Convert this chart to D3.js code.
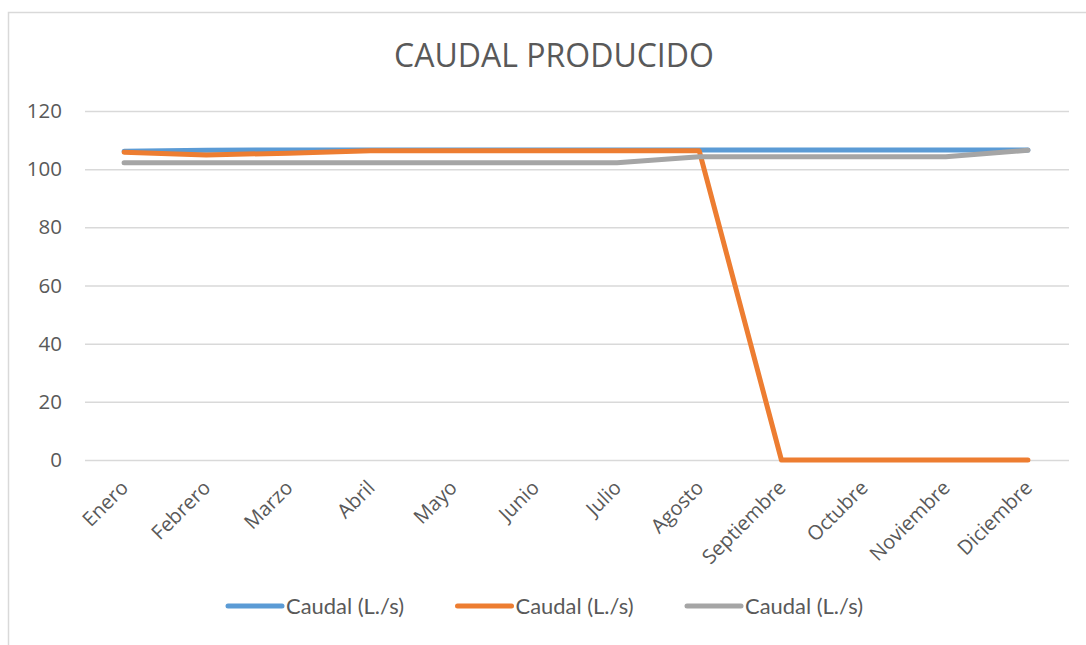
<!DOCTYPE html>
<html>
<head>
<meta charset="utf-8">
<script src="https://cdn.jsdelivr.net/npm/d3@7"></script>
<style>
  html, body { margin: 0; padding: 0; background: #fff; }
  svg { display: block; }
</style>
</head>
<body>
<svg id="chart" width="1086" height="645"></svg>
<script>
// Monthly produced flow, three series of Caudal (L./s)
const months = ["Enero", "Febrero", "Marzo", "Abril", "Mayo", "Junio", "Julio",
                "Agosto", "Septiembre", "Octubre", "Noviembre", "Diciembre"];
const caudalAzul =    [106.2, 106.5, 106.6, 106.6, 106.6, 106.6, 106.6, 106.6, 106.6, 106.6, 106.6, 106.6];
const caudalNaranja = [105.8, 104.9, 105.5, 106.3, 106.3, 106.3, 106.3, 106.3, 0, 0, 0, 0];
const caudalGris =    [102.2, 102.2, 102.2, 102.2, 102.2, 102.2, 102.2, 104.3, 104.3, 104.3, 104.3, 106.5];
const yTicks = [0, 20, 40, 60, 80, 100, 120];
const seriesNames = ["Caudal (L./s)", "Caudal (L./s)", "Caudal (L./s)"];
const seriesColors = ["#5B9BD5", "#ED7D31", "#A5A5A5"];

const series = [caudalAzul, caudalNaranja, caudalGris];
const svg = d3.select("#chart");
const textColor = "#595959";

// chart area outline (left and top edges visible)
svg.append("path")
  .attr("d", "M8.5,645 V12.5 H1086")
  .attr("fill", "none")
  .attr("stroke", "#D9D9D9")
  .attr("stroke-width", 1.5);

svg.append("text")
  .attr("x", 554).attr("y", 67)
  .attr("text-anchor", "middle")
  .attr("font-family", "Open Sans")
  .attr("font-size", 32)
  .attr("fill", textColor)
  .text("CAUDAL PRODUCIDO");

const x = d3.scalePoint().domain(months).range([83, 1069]).padding(0.5);
const y = d3.scaleLinear().domain([0, 120]).range([460, 111]);

// horizontal gridlines + value labels
const yAxis = d3.axisLeft(y).tickValues(yTicks).tickSize(-(1069 - 85)).tickPadding(23);
const gY = svg.append("g").attr("transform", "translate(85,0)").call(yAxis);
gY.select(".domain").remove();
gY.selectAll(".tick line").attr("stroke", "#D9D9D9").attr("stroke-width", 1.5);
gY.selectAll(".tick text")
  .attr("font-family", "Open Sans")
  .attr("font-size", 20.5)
  .attr("fill", textColor);

// category labels, rotated
const xAxis = d3.axisBottom(x).tickSize(0).tickPadding(0);
const gX = svg.append("g").attr("transform", "translate(0,460)").call(xAxis);
gX.select(".domain").remove();
gX.selectAll(".tick text")
  .attr("font-family", "Open Sans")
  .attr("font-size", 20)
  .attr("fill", textColor)
  .attr("text-anchor", "end")
  .attr("dy", null)
  .attr("y", null)
  .attr("transform", "translate(5,29) rotate(-45)");

const line = d3.line()
  .x((d, i) => x(months[i]))
  .y(d => y(d));

svg.append("g").selectAll("path")
  .data(series)
  .join("path")
  .attr("d", d => line(d))
  .attr("fill", "none")
  .attr("stroke", (d, i) => seriesColors[i])
  .attr("stroke-width", 5)
  .attr("stroke-linecap", "round")
  .attr("stroke-linejoin", "round");

// legend: line swatch followed by the series name
const legendX = [228, 457.5, 687];
const lg = svg.append("g").selectAll("g")
  .data(seriesNames)
  .join("g")
  .attr("transform", (d, i) => `translate(${legendX[i]},606)`);
lg.append("line")
  .attr("x1", 0).attr("x2", 54)
  .attr("stroke", (d, i) => seriesColors[i])
  .attr("stroke-width", 5)
  .attr("stroke-linecap", "round");
lg.append("text")
  .attr("x", 58).attr("dy", "0.36em")
  .attr("font-family", "Lato")
  .attr("font-size", 21.5)
  .attr("textLength", 118)
  .attr("lengthAdjust", "spacingAndGlyphs")
  .attr("fill", textColor)
  .text(d => d);
</script>
</body>
</html>
